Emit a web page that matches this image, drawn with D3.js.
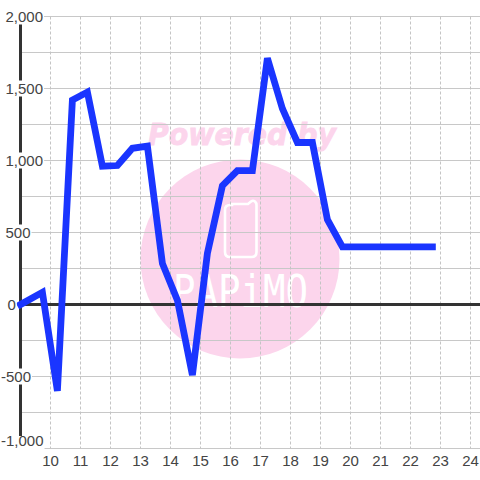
<!DOCTYPE html>
<html><head><meta charset="utf-8">
<script src="https://cdn.jsdelivr.net/npm/d3@7/dist/d3.min.js"></script>
<style>html,body{margin:0;background:#fff}svg{display:block}text{font-family:"Liberation Sans",Arial,sans-serif}</style>
</head><body><script>
const hours=[9,9.73,10.23,10.73,11.23,11.73,12.23,12.73,13.23,13.73,14.23,14.73,15.23,15.73,16.23,16.73,17.23,17.73,18.23,18.73,19.23,19.73,20.23,20.73,21.23,21.73,22.23,22.73];
const values=[0,85,-600,1420,1475,960,965,1085,1100,285,30,-490,355,825,930,930,1710,1360,1125,1125,590,400,400,400,400,400,400,400];
const xTicks=[10,11,12,13,14,15,16,17,18,19,20,21,22,23,24];
const yGrid=[-1000,-750,-500,-250,0,250,500,750,1000,1250,1500,1750,2000];
const yLabels=[-1000,-500,0,500,1000,1500,2000];
const W=480,H=480;
const x=d3.scaleLinear().domain([9,24]).range([20.5,470.5]);
const y=d3.scaleLinear().domain([-1000,2000]).range([448.5,16.5]);
const svg=d3.select("body").append("svg").attr("width",W).attr("height",H);
// watermark
const wm=svg.append("g");
wm.append("circle").attr("cx",240).attr("cy",259).attr("r",99.5).attr("fill","#fcd5ec");
wm.append("text").attr("x",148).attr("y",145)
  .attr("font-size",30).attr("font-weight","bold").attr("font-style","italic")
  .attr("textLength",188).attr("lengthAdjust","spacingAndGlyphs")
  .style("font-family","'DejaVu Sans'").attr("fill","#fcd5ec").attr("stroke","#fcd5ec").attr("stroke-width",0.8).text("Powered by");
wm.append("path").attr("d","M232 204H248L251 201.500Q253 200 255 201.500Q256.500 203 256.500 205V252Q256.500 257 251.500 257H230Q225 257 225 252V210Q225 205 230 205H232Z")
  .attr("fill","none").attr("stroke","#fff").attr("stroke-width",2.6);
wm.append("text").attr("x",173).attr("y",307)
  .attr("textLength",135).attr("lengthAdjust","spacingAndGlyphs")
  .attr("font-size",44).style("font-family","'DejaVu Sans Mono'").attr("fill","#fff").text("PAPiMO");
// grid
const grid=svg.append("g");
grid.selectAll("line.h").data(yGrid).join("line").attr("class","h")
  .attr("x1",20).attr("x2",W).attr("y1",d=>y(d)).attr("y2",d=>y(d))
  .attr("stroke","#c8c8c8").attr("stroke-width",1);
grid.selectAll("line.v").data(xTicks).join("line").attr("class","v")
  .attr("x1",d=>x(d)).attr("x2",d=>x(d)).attr("y1",y(2000)).attr("y2",y(-1000))
  .attr("stroke","#c4c4c4").attr("stroke-width",1).attr("stroke-dasharray","3 2");
// axes
svg.append("line").attr("x1",x(9)).attr("x2",x(9)).attr("y1",y(2000)).attr("y2",y(-1000)).attr("stroke","#333").attr("stroke-width",3);
svg.append("line").attr("x1",x(9)).attr("x2",W).attr("y1",y(0)).attr("y2",y(0)).attr("stroke","#333").attr("stroke-width",3);
// line
const line=d3.line().x((d,i)=>x(hours[i])).y(d=>y(d));
svg.append("path").attr("d",line(values)).attr("fill","none").attr("stroke","#1a35ff").attr("stroke-width",6.8)
  .attr("stroke-linejoin","miter").attr("stroke-miterlimit",2).attr("stroke-linecap","square");
// labels
const fmt=d3.format(",");
const lab=svg.append("g").attr("font-size",15).attr("fill","#444");
yLabels.forEach(v=>{
  const s=fmt(v).replace("\u2212","-");
  const cy=v===-1000?441:y(v);
  const t=lab.append("text").attr("x",v<0?1:(v===0?7.5:5.5)).attr("y",cy).attr("dy","0.35em").text(s);
  const b=t.node().getBBox();
  const top=v===-1000?436:cy-8, h=v===-1000?14:16;
  lab.insert("rect","text").attr("x",0).attr("y",top).attr("width",b.x+b.width+1).attr("height",h).attr("fill","#fff");
});
lab.selectAll("text.x").data(xTicks).join("text").attr("class","x").attr("x",d=>x(d)).attr("y",466).attr("text-anchor","middle").text(d=>d);
</script></body></html>
